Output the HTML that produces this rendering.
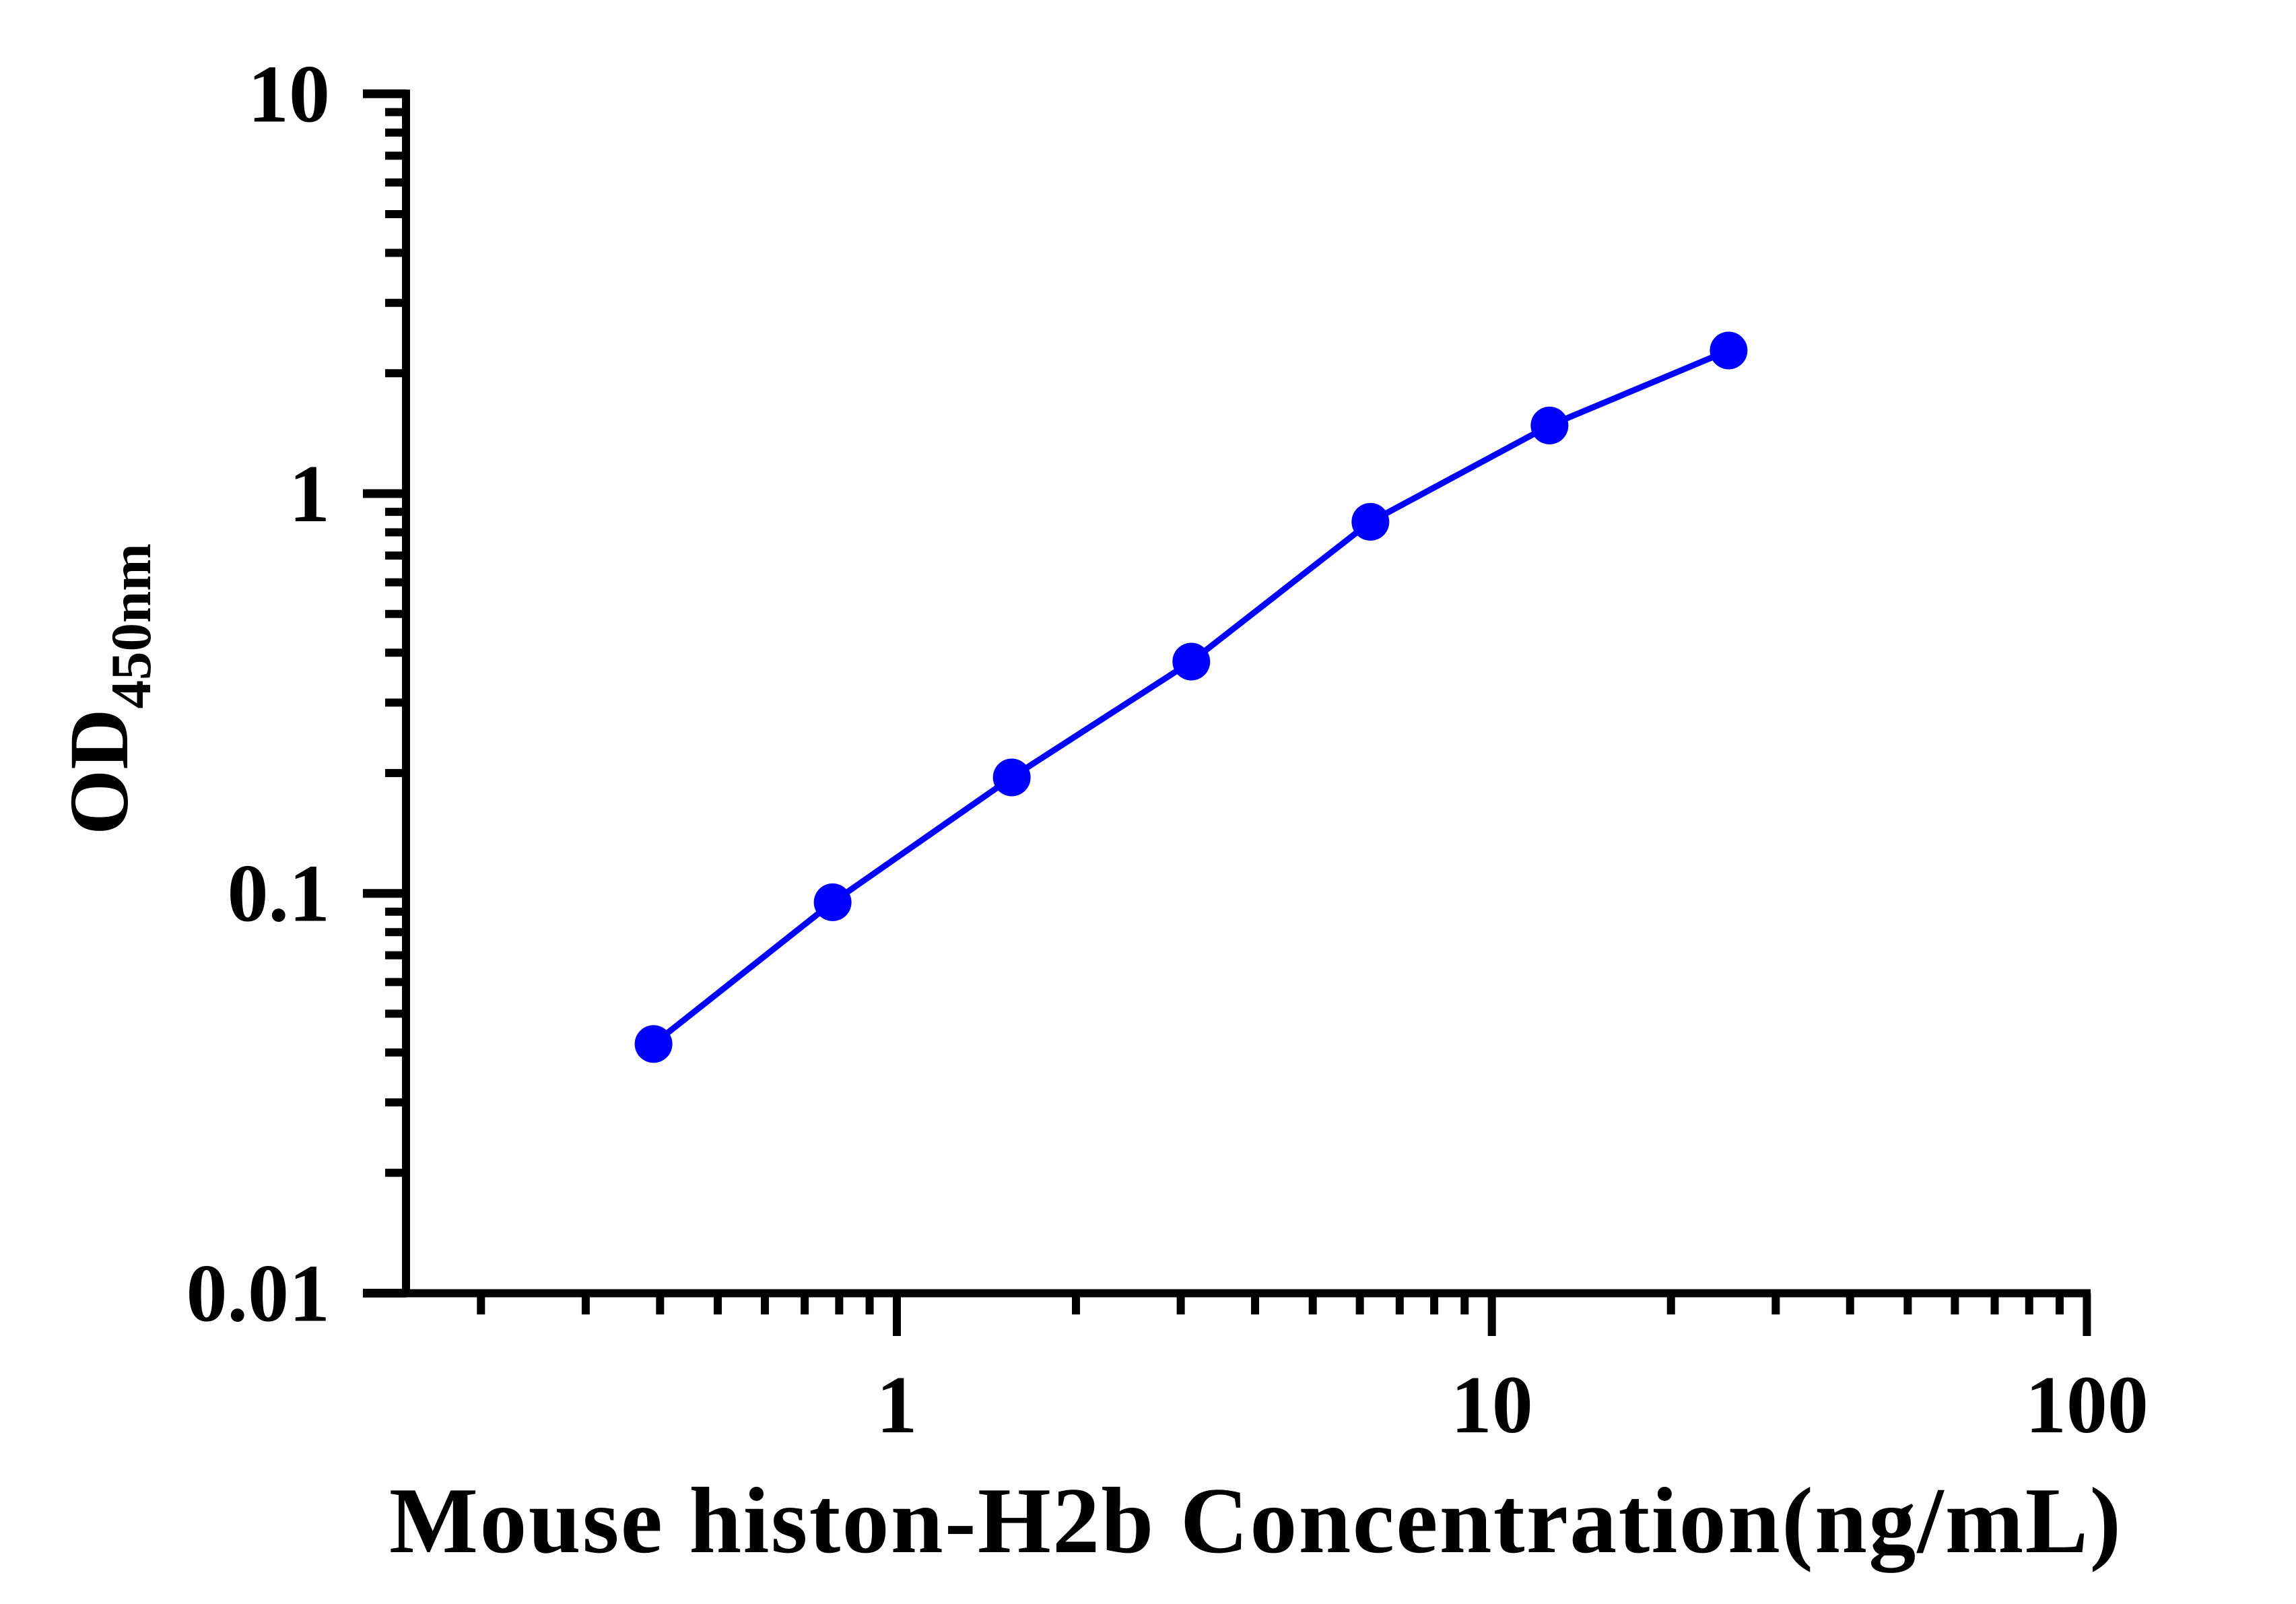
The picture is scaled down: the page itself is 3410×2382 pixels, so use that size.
<!DOCTYPE html>
<html><head><meta charset="utf-8"><style>html,body{margin:0;padding:0;background:#fff}svg{display:block}</style></head>
<body>
<svg id="chart" xmlns="http://www.w3.org/2000/svg" width="3410" height="2382" viewBox="0 0 3410 2382" font-family="'Liberation Serif', serif" font-weight="bold">
<rect width="3410" height="2382" fill="#fff"/>
<g id="axes"></g>
<g id="series"></g>
<text x="578" y="2305" font-size="140" textLength="2572" lengthAdjust="spacing">Mouse histon-H2b Concentration(ng/mL)</text>
<text transform="translate(189,1240) rotate(-90)" font-size="125">OD<tspan font-size="85" dy="34">450nm</tspan></text>
</svg>
<script>
const concentrations = [0.39, 0.78, 1.56, 3.125, 6.25, 12.5, 25];
const odValues = [0.042, 0.095, 0.195, 0.38, 0.85, 1.48, 2.28];
const xTickValues = [1, 10, 100];
const xTickLabels = ["1", "10", "100"];
const yTickValues = [0.01, 0.1, 1, 10];
const yTickLabels = ["0.01", "0.1", "1", "10"];

const NS = "http://www.w3.org/2000/svg";
const X1 = 1332, XD = 883.7;
const Y1 = 733, YD = 593.7;
function xs(v){ return X1 + Math.log10(v) * XD; }
function ys(v){ return Y1 - Math.log10(v) * YD; }
const AX = 603, AY = 1920.5;
function mk(tag, attrs, parent){ const e = document.createElementNS(NS, tag); for (const k in attrs) e.setAttribute(k, attrs[k]); parent.appendChild(e); return e; }
const axes = document.getElementById('axes');
const series = document.getElementById('series');

let l = mk('line', {x1: AX, y1: 133, x2: AX, y2: AY + 6, stroke: '#000', 'stroke-width': 12}, axes);


l = mk('line', {x1: 539, y1: AY, x2: 3105, y2: AY, stroke: '#000', 'stroke-width': 12}, axes);



// y ticks
for (let d = 0.01; d < 10; d *= 10) {
  for (let m = 2; m <= 9; m++) {
    const y = ys(d * m);
    const t = mk('line', {x1: 572, y1: y, x2: AX, y2: y, stroke: '#000', 'stroke-width': 12}, axes);
    
    
  }
}
yTickValues.forEach((v, i) => {
  const y = ys(v);
  const t = mk('line', {x1: 539, y1: y, x2: AX, y2: y, stroke: '#000', 'stroke-width': 13}, axes);
  
  
  const tx = mk('text', {x: 490, y: y + 41, 'font-size': 122, 'text-anchor': 'end'}, axes);
  tx.textContent = yTickLabels[i];
  
  
});

// x ticks
for (let d = 0.1; d < 100; d *= 10) {
  for (let m = 2; m <= 9; m++) {
    const x = xs(d * m);
    if (x < 545) continue;
    const t = mk('line', {x1: x, y1: AY, x2: x, y2: 1952, stroke: '#000', 'stroke-width': 12}, axes);
    
    
  }
}
xTickValues.forEach((v, i) => {
  const x = xs(v);
  const t = mk('line', {x1: x, y1: AY, x2: x, y2: 1984, stroke: '#000', 'stroke-width': 12}, axes);
  
  
  const tx = mk('text', {x: x, y: 2127, 'font-size': 122, 'text-anchor': 'middle'}, axes);
  tx.textContent = xTickLabels[i];
  
  
});

// series
const pts = concentrations.map((c, i) => xs(c) + ',' + ys(odValues[i])).join(' ');
const pl = mk('polyline', {points: pts, fill: 'none', stroke: '#0000ff', 'stroke-width': 9, 'stroke-linejoin': 'round'}, series);


concentrations.forEach((c, i) => {
  const p = mk('circle', {cx: xs(c), cy: ys(odValues[i]), r: 28, fill: '#0000ff'}, series);
  
  
});
</script>
</body></html>
